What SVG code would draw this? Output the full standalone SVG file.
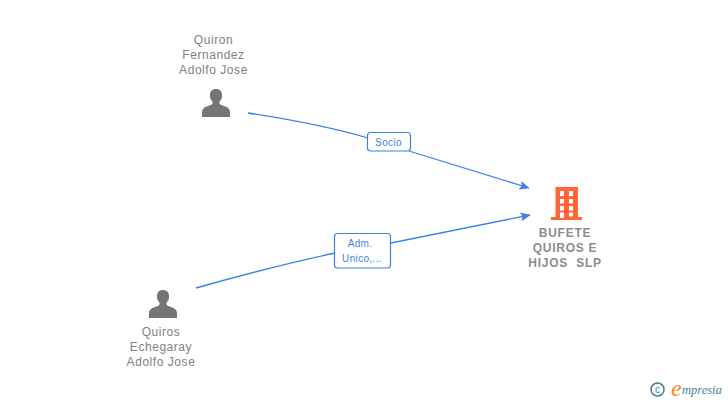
<svg xmlns="http://www.w3.org/2000/svg" width="728" height="400" viewBox="0 0 728 400">
<style>
text{font-family:"Liberation Sans",Arial,sans-serif}
.n{font-size:12px;fill:#808080;text-anchor:middle;letter-spacing:.55px}
.b{font-size:12px;font-weight:700;fill:#8c8c8c;text-anchor:middle;letter-spacing:.75px}
.l{font-size:10px;fill:#3b82e6;text-anchor:middle;letter-spacing:.35px}
.c{fill:none;stroke:#3b82e6;stroke-width:1.3}
.box{fill:#fff;stroke:#3b82e6;stroke-width:1.2}
.p{fill:#757575}
</style>
<defs>
<marker id="a" markerWidth="12" markerHeight="10" refX="9.500" refY="4.500" orient="auto" markerUnits="userSpaceOnUse"><path d="M0 0L10 4.500L0 9L2 4.500Z" fill="#3b82e6"/></marker>
<path id="person" d="M-14 14V9C-14 5-10 3.500-5 2C-3 1-3-1-4-2C-6-4-6-6-6-8C-6-12-3.500-14 0-14C3.500-14 6-12 6-8C6-6 6-4 4-2C3-1 3 1 5 2C10 3.500 14 5 14 9V14Z"/>
</defs>
<g id="connectors">
<path class="c" d="M248 113Q320 124 368 138M409 151L529 188" marker-end="url(#a)"/>
<path class="c" d="M196 288Q270 267 335 253M391 243L530 215" marker-end="url(#a)"/>
</g>
<g id="label-socio"><rect class="box" x="367.500" y="132.500" width="43" height="18.500" rx="3"/><text class="l" x="388.500" y="145.500">Socio</text></g>
<g id="label-adm"><rect class="box" x="334.500" y="233.500" width="56" height="34.500" rx="3"/><text class="l" x="360" y="247">Adm.</text><text class="l" x="362" y="262">Unico,...</text></g>
<g id="node-quiron"><text class="n" x="213.500" y="44">Quiron</text><text class="n" x="213.500" y="59">Fernandez</text><text class="n" x="213.500" y="74">Adolfo Jose</text><use href="#person" class="p" x="216" y="103"/></g>
<g id="node-quiros"><text class="n" x="161" y="336">Quiros</text><text class="n" x="161" y="351">Echegaray</text><text class="n" x="161" y="366">Adolfo Jose</text><use href="#person" class="p" x="163" y="304"/></g>
<g id="node-bufete">
<path fill="#ff6633" fill-rule="evenodd" d="M555.500 187H578V217H582V220H551V217H555.500ZM560 191V196H564V191ZM569 191V196H573V191ZM560 199V203.500H564V199ZM569 199V203.500H573V199ZM560 206V210.500H564V206ZM569 206V210.500H573V206ZM560 212.500V218H564V212.500ZM569 212.500V216.500H573V212.500Z"/>
<text class="b" x="565" y="237">BUFETE</text><text class="b" x="565" y="252">QUIROS E</text><text class="b" x="565" y="267" xml:space="preserve">HIJOS  SLP</text>
</g>
<g id="logo">
<circle cx="657.500" cy="389.500" r="6.500" fill="none" stroke="#3d7f96" stroke-width="1.500"/>
<text x="657.500" y="393" font-size="10" fill="#3d7f96" text-anchor="middle">c</text>
<text x="671" y="396" font-size="24" fill="#f08a1d" style="font-family:'Liberation Serif',serif;font-style:italic">e</text>
<text x="682" y="394" font-size="12.500" fill="#3d7f96" style="font-family:'Liberation Serif',serif;font-style:italic">mpresia</text>
</g>
</svg>
